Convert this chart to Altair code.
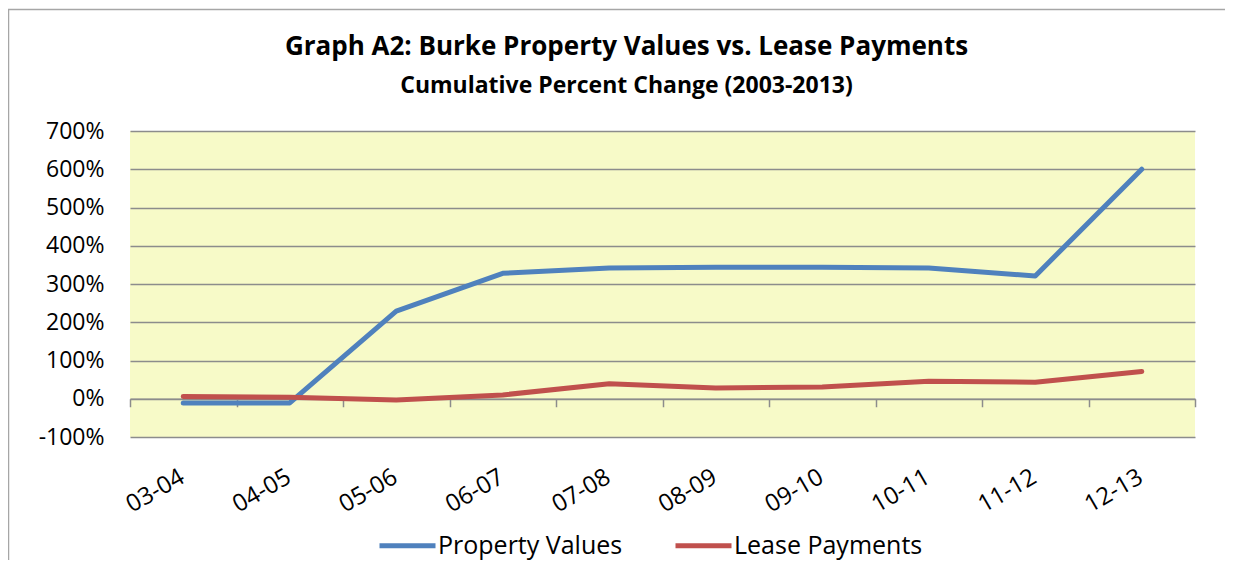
import altair as alt
import pandas as pd

categories = ["03-04", "04-05", "05-06", "06-07", "07-08", "08-09", "09-10", "10-11", "11-12", "12-13"]
property_values = [-11, -11, 229, 328, 342, 344, 344, 342, 321, 600]
lease_payments = [6, 4, -3, 10, 39, 28, 31, 46, 43, 71]
series_names = ["Property Values", "Lease Payments"]
series_colors = ["#4F81BD", "#C0504D"]
y_ticks = [-100, 0, 100, 200, 300, 400, 500, 600, 700]

rows = []
for c, p, l in zip(categories, property_values, lease_payments):
    rows.append({"period": c, "series": series_names[0], "value": p})
    rows.append({"period": c, "series": series_names[1], "value": l})
df = pd.DataFrame(rows)

FONT = "Open Sans"
W, H = 1065, 306

frame = alt.Chart(pd.DataFrame({"f": [0]})).mark_rect(
    fillOpacity=0, stroke="#a6a6a6", strokeWidth=1.5
).encode(
    x=alt.value(-121.5), y=alt.value(-121.5), x2=alt.value(W + 200), y2=alt.value(H + 300)
)

lines = alt.Chart(df).mark_line(strokeWidth=5, strokeCap="round", strokeJoin="round").encode(
    x=alt.X("period:N", sort=categories, title=None, bandPosition=0.5,
            scale=alt.Scale(type="band", paddingInner=0, paddingOuter=0),
            axis=alt.Axis(offset=-38.25, tickBand="extent", labelAngle=-30, labelAlign="right",
                          labelBaseline="top", labelPadding=58, labelOffset=-7, tickSize=8,
                          tickColor="#8c8c8c", tickWidth=1.5, domainColor="#8c8c8c",
                          domainWidth=1.5, labelFontSize=24, labelColor="black",
                          labelFont=FONT, grid=False)),
    y=alt.Y("value:Q", title=None,
            scale=alt.Scale(domain=[-100, 700], nice=False, zero=False),
            axis=alt.Axis(values=y_ticks, labelExpr="datum.value + '%'", domain=False,
                          ticks=False, labelPadding=26, labelFontSize=23, labelColor="black",
                          labelFont=FONT, grid=True, gridColor="#8c8c8c", gridWidth=1.5)),
    color=alt.Color("series:N", sort=series_names,
                    scale=alt.Scale(domain=series_names, range=series_colors),
                    legend=alt.Legend(title=None, orient="none", direction="horizontal",
                                      legendX=247, legendY=384, symbolType="stroke",
                                      symbolSize=3136, symbolStrokeWidth=5,
                                      labelFontSize=25, labelFont=FONT, labelColor="black",
                                      labelOffset=0, columnPadding=42, labelLimit=400)),
    order=alt.Order("series:N"),
)

chart = alt.layer(frame, lines).properties(
    width=W, height=H,
    autosize=alt.AutoSizeParams(type="none"),
    padding={"left": 122, "top": 123, "right": 30, "bottom": 123},
    background="white",
    title=alt.Title("Graph A2: Burke Property Values vs. Lease Payments",
                    subtitle="Cumulative Percent Change (2003-2013)",
                    anchor="middle", dx=-36, offset=-89,
                    fontSize=26, font=FONT, fontWeight="bold", color="black",
                    subtitleFontSize=23, subtitleFont=FONT, subtitleFontWeight="bold",
                    subtitleColor="black", subtitlePadding=15),
).configure_view(fill="#F7FAC8", strokeWidth=0)

chart.save("out.html", embed_options={"renderer": "svg", "actions": False})
